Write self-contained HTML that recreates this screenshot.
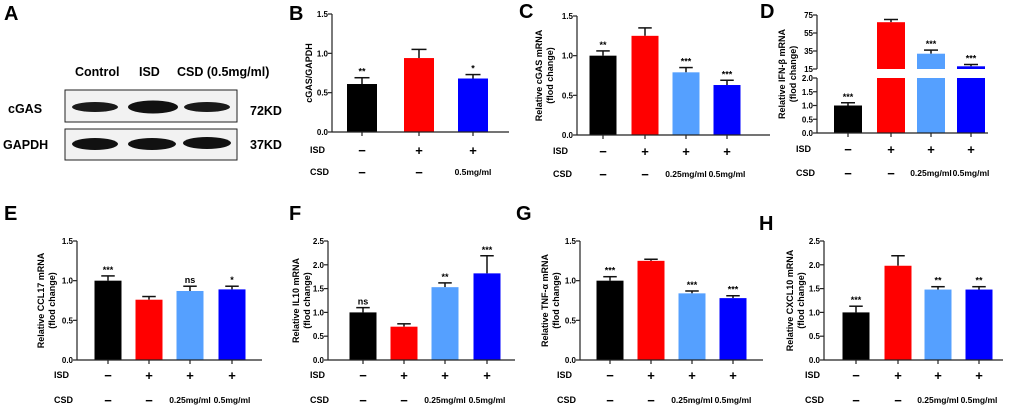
<!DOCTYPE html>
<html><head><meta charset="utf-8"><style>
html,body{margin:0;padding:0;background:#fff;}
svg text{font-family:"Liberation Sans",Arial,sans-serif;font-weight:bold;}
</style></head><body>
<svg id="fig" width="1020" height="409" viewBox="0 0 1020 409" xmlns="http://www.w3.org/2000/svg">
<g>
<text x="4" y="20" font-size="20">A</text>
<text x="75" y="76" font-size="12.5">Control</text>
<text x="139" y="76" font-size="12.5">ISD</text>
<text x="177" y="76" font-size="12.5">CSD  (0.5mg/ml)</text>
<text x="8" y="113" font-size="12.5">cGAS</text>
<text x="3" y="149" font-size="12.5">GAPDH</text>
<text x="250" y="115" font-size="12.5">72KD</text>
<text x="250" y="149" font-size="12.5">37KD</text>
<rect x="65" y="90" width="172" height="32" fill="#f2f2f2" stroke="#222" stroke-width="1"/>
<rect x="65" y="129" width="172" height="31" fill="#f2f2f2" stroke="#222" stroke-width="1"/>
<ellipse cx="95" cy="107" rx="23" ry="5" fill="#1a1a1a"/>
<ellipse cx="153" cy="107" rx="25" ry="6.5" fill="#111"/>
<ellipse cx="207" cy="107" rx="23" ry="5" fill="#1a1a1a"/>
<ellipse cx="95" cy="144" rx="23" ry="6" fill="#111"/>
<ellipse cx="152" cy="144" rx="24" ry="6" fill="#111"/>
<ellipse cx="207" cy="143" rx="24" ry="6" fill="#111"/>
</g>
</svg>
<script>
const colors4 = ["#000000", "#ff0000", "#55a0ff", "#0000ff"];
const csd4 = ["−", "−", "0.25mg/ml", "0.5mg/ml"];
const isd4 = ["−", "+", "+", "+"];

const bValues = [0.61, 0.94, 0.68];
const bErrors = [0.08, 0.11, 0.05];
const bStars = ["**", "", "*"];
const bTicks = [0, 0.5, 1.0, 1.5];

const cValues = [1.0, 1.25, 0.79, 0.63];
const cErrors = [0.06, 0.10, 0.06, 0.06];
const cStars = ["**", "", "***", "***"];

const dValues = [1.0, 67, 32, 18];
const dErrors = [0.1, 3, 4, 2];
const dStars = ["***", "", "***", "***"];
const dTicksLow = [0, 0.5, 1.0, 1.5, 2.0];
const dTicksHigh = [15, 35, 55, 75];

const eValues = [1.0, 0.76, 0.87, 0.89];
const eErrors = [0.06, 0.04, 0.06, 0.04];
const eStars = ["***", "", "ns", "*"];

const fValues = [1.0, 0.7, 1.53, 1.82];
const fErrors = [0.1, 0.06, 0.09, 0.37];
const fStars = ["ns", "", "**", "***"];

const gValues = [1.0, 1.25, 0.84, 0.78];
const gErrors = [0.05, 0.02, 0.03, 0.03];
const gStars = ["***", "", "***", "***"];

const hValues = [1.0, 1.98, 1.48, 1.48];
const hErrors = [0.13, 0.21, 0.06, 0.06];
const hStars = ["***", "", "**", "**"];

const ticks15 = [0, 0.5, 1.0, 1.5];
const ticks25 = [0, 0.5, 1.0, 1.5, 2.0, 2.5];

const svg = document.getElementById('fig');
const NS = "http://www.w3.org/2000/svg";
function mk(tag, attrs, parent) {
  const e = document.createElementNS(NS, tag);
  for (const k in attrs) e.setAttribute(k, attrs[k]);
  (parent || svg).appendChild(e);
  return e;
}
function txt(parent, x, y, s, size, anchor, extra) {
  const t = mk('text', Object.assign({x: x, y: y, 'font-size': size, 'text-anchor': anchor || 'start'}, extra || {}), parent);
  t.textContent = s;
  return t;
}

function drawBars(g, name, centers, vals, errs, stars, cols, yScale, bw) {
  const base = yScale(0);
  vals.forEach((v, i) => {
    const top = yScale(v + errs[i]);
    const l = mk('line', {x1: centers[i], x2: centers[i], y1: yScale(v), y2: top, stroke: '#111', 'stroke-width': 1.5}, g);
    
    
    const c = mk('line', {x1: centers[i] - bw / 4, x2: centers[i] + bw / 4, y1: top, y2: top, stroke: '#111', 'stroke-width': 1.5}, g);
    
    
    const r = mk('rect', {x: centers[i] - bw / 2, y: yScale(v), width: bw, height: base - yScale(v), fill: cols[i]}, g);
    
    
    if (stars[i]) {
      const s = txt(g, centers[i], top - 3, stars[i], 9, 'middle', stars[i] === 'ns' ? {'font-weight': 'normal'} : {});
      
      
    }
  });
}

function drawYAxis(g, name, ax, ticks, yScale) {
  const a = mk('line', {x1: ax, x2: ax, y1: yScale(ticks[ticks.length - 1]), y2: yScale(ticks[0]), stroke: '#222', 'stroke-width': 1.2}, g);
  
  
  ticks.forEach(t => {
    mk('line', {x1: ax - 4, x2: ax, y1: yScale(t), y2: yScale(t), stroke: '#222', 'stroke-width': 1.2}, g);
    const l = txt(g, ax - 4, yScale(t) + 3, Number.isInteger(t) && t > 2.5 ? String(t) : t.toFixed(1), 8, 'end');
    
    
  });
}

function drawXAxis(g, name, ax, axEnd, base, centers, isd, csd, isdY, csdY, labelX) {
  const a = mk('line', {x1: ax, x2: axEnd, y1: base, y2: base, stroke: '#222', 'stroke-width': 1.2}, g);
  
  
  centers.forEach((c, i) => {
    mk('line', {x1: c, x2: c, y1: base, y2: base + 4, stroke: '#222', 'stroke-width': 1.2}, g);
    const s = txt(g, c, isdY + 1, isd[i], 13, 'middle');
    
    
    const cs = csd[i] === '−' ? txt(g, c, csdY + 1, '−', 13, 'middle') : txt(g, c, csdY - 1, csd[i], 8.5, 'middle');
    
    
  });
  const il = txt(g, labelX, isdY - 1, 'ISD', 9, 'start');
  
  
  const cl = txt(g, labelX, csdY - 1, 'CSD', 9, 'start');
  
  
}

function yTitle(g, name, x, yc, lines) {
  lines.forEach((s, i) => {
    const t = txt(g, 0, 0, s, 9, 'middle', {transform: 'translate(' + (x + i * 11) + ',' + yc + ') rotate(-90)'});
    
    
  });
}

function panel(p) {
  const g = mk('g', {});
  
  
  const yScale = v => p.y0 - (v / p.max) * (p.y0 - p.yTop);
  const lab = txt(g, p.lx, p.ly, p.id.toUpperCase(), 20, 'start');
  
  
  yTitle(g, p.id, p.tx, (p.yTop + p.y0) / 2, p.title);
  drawBars(g, p.id, p.centers, p.vals, p.errs, p.stars, p.cols, yScale, p.bw);
  drawYAxis(g, p.id, p.ax, p.ticks, yScale);
  drawXAxis(g, p.id, p.ax, p.axEnd, p.y0, p.centers, p.isd, p.csd, p.isdY, p.csdY, p.labelX);
}

panel({id: 'b', lx: 289, ly: 20, tx: 312, title: ['cGAS/GAPDH'], ax: 332, axEnd: 509, yTop: 14, y0: 132, max: 1.5,
  centers: [362, 419, 473], bw: 30, vals: bValues, errs: bErrors, stars: bStars, cols: ["#000000", "#ff0000", "#0000ff"],
  ticks: bTicks, isd: ["−", "+", "+"], csd: ["−", "−", "0.5mg/ml"], isdY: 154, csdY: 176, labelX: 310});
panel({id: 'c', lx: 519, ly: 18, tx: 542, title: ['Relative cGAS mRNA', '(flod change)'], ax: 577, axEnd: 770, yTop: 16, y0: 135, max: 1.5,
  centers: [603, 645, 686, 727], bw: 27, vals: cValues, errs: cErrors, stars: cStars, cols: colors4,
  ticks: ticks15, isd: isd4, csd: csd4, isdY: 155, csdY: 178, labelX: 553});
panel({id: 'e', lx: 4, ly: 220, tx: 44, title: ['Relative CCL17 mRNA', '(flod change)'], ax: 77, axEnd: 262, yTop: 241, y0: 360, max: 1.5,
  centers: [108, 149, 190, 232], bw: 27, vals: eValues, errs: eErrors, stars: eStars, cols: colors4,
  ticks: ticks15, isd: isd4, csd: csd4, isdY: 379, csdY: 404, labelX: 54});
panel({id: 'f', lx: 289, ly: 220, tx: 299, title: ['Relative IL10 mRNA', '(flod change)'], ax: 328, axEnd: 515, yTop: 241, y0: 360, max: 2.5,
  centers: [363, 404, 445, 487], bw: 27, vals: fValues, errs: fErrors, stars: fStars, cols: colors4,
  ticks: ticks25, isd: isd4, csd: csd4, isdY: 379, csdY: 404, labelX: 310});
panel({id: 'g', lx: 516, ly: 220, tx: 548, title: ['Relative TNF-α mRNA', '(flod change)'], ax: 580, axEnd: 763, yTop: 241, y0: 360, max: 1.5,
  centers: [610, 651, 692, 733], bw: 27, vals: gValues, errs: gErrors, stars: gStars, cols: colors4,
  ticks: ticks15, isd: isd4, csd: csd4, isdY: 379, csdY: 404, labelX: 557});
panel({id: 'h', lx: 759, ly: 230, tx: 793, title: ['Relative CXCL10 mRNA', '(flod change)'], ax: 824, axEnd: 1003, yTop: 241, y0: 360, max: 2.5,
  centers: [856, 898, 938, 979], bw: 27, vals: hValues, errs: hErrors, stars: hStars, cols: colors4,
  ticks: ticks25, isd: isd4, csd: csd4, isdY: 379, csdY: 404, labelX: 805});

// Panel D: broken y axis
(function () {
  const g = mk('g', {});
  
  
  const ax = 817, lowTop = 78, lowBase = 133, hiTop = 15, hiBase = 69;
  const yLow = v => lowBase - (v / 2) * (lowBase - lowTop);
  const yHi = v => hiBase - ((v - 15) / 60) * (hiBase - hiTop);
  const yAny = v => v <= 2 ? yLow(v) : yHi(v);
  const lab = txt(g, 760, 18, 'D', 20, 'start');
  
  
  yTitle(g, 'd', 785, 74, ['Relative IFN-β mRNA', '(flod change)']);
  const centers = [848, 891, 931, 971], bw = 28;
  dValues.forEach((v, i) => {
    const c = centers[i];
    const e = v + dErrors[i];
    const top = yAny(e);
    const l = mk('line', {x1: c, x2: c, y1: yAny(v), y2: top, stroke: '#111', 'stroke-width': 1.5}, g);
    
    
    const cp = mk('line', {x1: c - 7, x2: c + 7, y1: top, y2: top, stroke: '#111', 'stroke-width': 1.5}, g);
    
    
    if (v <= 2) {
      const r = mk('rect', {x: c - bw / 2, y: yLow(v), width: bw, height: lowBase - yLow(v), fill: colors4[i]}, g);
      
      
    } else {
      const r1 = mk('rect', {x: c - bw / 2, y: lowTop, width: bw, height: lowBase - lowTop, fill: colors4[i]}, g);
      
      
      const r2 = mk('rect', {x: c - bw / 2, y: yHi(v), width: bw, height: hiBase - yHi(v), fill: colors4[i]}, g);
      
      
    }
    if (dStars[i]) {
      const s = txt(g, c, top - 3, dStars[i], 9, 'middle');
      
      
    }
  });
  const a1 = mk('line', {x1: ax, x2: ax, y1: lowTop, y2: lowBase, stroke: '#222', 'stroke-width': 1.2}, g);
  
  
  const a2 = mk('line', {x1: ax, x2: ax, y1: hiTop, y2: hiBase, stroke: '#222', 'stroke-width': 1.2}, g);
  
  
  dTicksLow.forEach(t => {
    mk('line', {x1: ax - 4, x2: ax, y1: yLow(t), y2: yLow(t), stroke: '#222', 'stroke-width': 1.2}, g);
    const l = txt(g, ax - 4, yLow(t) + 3, t.toFixed(1), 8, 'end');
    
    
  });
  dTicksHigh.forEach(t => {
    mk('line', {x1: ax - 4, x2: ax, y1: yHi(t), y2: yHi(t), stroke: '#222', 'stroke-width': 1.2}, g);
    const l = txt(g, ax - 4, yHi(t) + 3, String(t), 8, 'end');
    
    
  });
  drawXAxis(g, 'd', ax, 988, lowBase, centers, isd4, csd4, 153, 177, 796);
})();
</script>
</body></html>
